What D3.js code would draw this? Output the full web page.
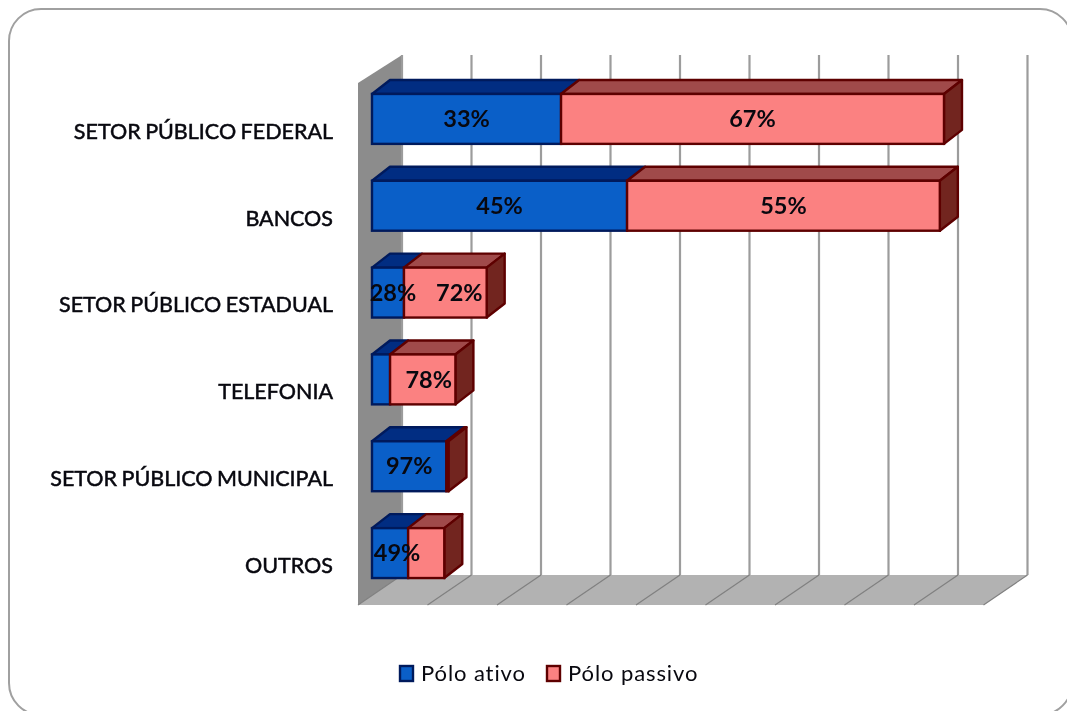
<!DOCTYPE html>
<html>
<head>
<meta charset="utf-8">
<script src="https://cdn.jsdelivr.net/npm/d3@7"></script>
<style>
  html, body { margin: 0; padding: 0; background: #fff; overflow: hidden; }
  svg { display: block; filter: blur(0.7px); }
  text { font-family: Lato, "Open Sans", sans-serif; fill: #08080f; }
</style>
</head>
<body>
<div id="container"></div>
<script>
// 1 - DATA, in gridline units

const categorias = ["SETOR PÚBLICO FEDERAL", "BANCOS", "SETOR PÚBLICO ESTADUAL", "TELEFONIA", "SETOR PÚBLICO MUNICIPAL", "OUTROS"];
const poloAtivo = [2.72, 3.67, 0.46, 0.26, 1.07, 0.52];
const poloPassivo = [5.51, 4.50, 1.19, 0.94, 0.03, 0.52];
const rotulosAtivo = ["33%", "45%", "28%", "", "97%", "49%"];
const rotulosPassivo = ["67%", "55%", "72%", "78%", "", ""];
const nomesSeries = ["Pólo ativo", "Pólo passivo"];
const divisoes = [0, 1, 2, 3, 4, 5, 6, 7, 8, 9];

// 2 - SETUP

const width = 1067;
const height = 711;
const depth = { x: 18, y: 14 };      // bar extrusion
const wall = { back: 30, front: 14, dy: 30 }; // how far the grid box sits from the zero line
const floorY = 605;
const wallTop = 55;

const colors = {
  ativo: { front: "#0a5fc8", top: "#012d82", stroke: "#001a5c" },
  passivo: { front: "#fb8181", top: "#a04a4a", side: "#72251f", stroke: "#5e0000" }
};

const svg = d3.select("#container")
  .append("svg")
  .attr("width", width)
  .attr("height", height);

// 3 - SCALES

const xScale = d3.scaleLinear()
  .domain([0, 9])
  .range([372, 372 + 9 * 69.5]);

const yScale = d3.scaleBand()
  .domain(categorias)
  .range([75.5, 596.5])
  .paddingInner(0.425)
  .paddingOuter(0.2125);

const rows = categorias.map((c, i) => ({
  categoria: c, ativo: poloAtivo[i], passivo: poloPassivo[i]
}));
const stacked = d3.stack().keys(["ativo", "passivo"])(rows);

const poly = pts => pts.map(p => p.join(",")).join(" ");

// 4 - FRAME

svg.append("rect")
  .attr("x", 9).attr("y", 9)
  .attr("width", 1063).attr("height", 706)
  .attr("rx", 32)
  .attr("fill", "#fff")
  .attr("stroke", "#a0a0a0")
  .attr("stroke-width", 2);

// 5 - GRID BOX (wall, floor, gridlines)

const x0 = xScale(0);
const x9 = xScale(9);

svg.append("polygon")
  .attr("points", poly([[x0 - wall.front, floorY], [x0 + wall.back, floorY - wall.dy], [x9 + wall.back, floorY - wall.dy], [x9 - wall.front, floorY]]))
  .attr("fill", "#b2b2b2");

svg.append("polygon")
  .attr("points", poly([[x0 - wall.front, wallTop + 28], [x0 + wall.back, wallTop], [x0 + wall.back, floorY - wall.dy], [x0 - wall.front, floorY]]))
  .attr("fill", "#8c8c8c");

svg.selectAll("line.grid")
  .data(divisoes)
  .join("line")
  .attr("class", "grid")
  .attr("x1", d => xScale(d) + wall.back)
  .attr("x2", d => xScale(d) + wall.back)
  .attr("y1", wallTop)
  .attr("y2", floorY - wall.dy)
  .attr("stroke", "#9c9c9c")
  .attr("stroke-width", 2.2);

svg.selectAll("line.floor")
  .data(divisoes)
  .join("line")
  .attr("class", "floor")
  .attr("x1", d => xScale(d) - wall.front)
  .attr("x2", d => xScale(d) + wall.back)
  .attr("y1", floorY)
  .attr("y2", floorY - wall.dy)
  .attr("stroke", "#808080")
  .attr("stroke-width", 1.2);

// 6 - BARS

const barH = yScale.bandwidth();

stacked.forEach(serie => {
  const c = colors[serie.key];
  const g = svg.append("g").attr("class", serie.key);

  // top faces
  g.selectAll("polygon.top")
    .data(serie)
    .join("polygon")
    .attr("class", "top")
    .attr("points", d => {
      const a = xScale(d[0]), b = xScale(d[1]), t = yScale(d.data.categoria);
      return poly([[a, t], [a + depth.x, t - depth.y], [b + depth.x, t - depth.y], [b, t]]);
    })
    .attr("fill", c.top)
    .attr("stroke", c.stroke)
    .attr("stroke-width", 2.4)
    .attr("stroke-linejoin", "round");

  // only the last series closes the bar with a side face
  if (serie.key === "passivo") {
    g.selectAll("polygon.side")
      .data(serie)
      .join("polygon")
      .attr("class", "side")
      .attr("points", d => {
        const b = xScale(d[1]), t = yScale(d.data.categoria);
        return poly([[b, t], [b + depth.x, t - depth.y], [b + depth.x, t - depth.y + barH], [b, t + barH]]);
      })
      .attr("fill", c.side)
      .attr("stroke", c.stroke)
      .attr("stroke-width", 2.4)
      .attr("stroke-linejoin", "round");
  }

  g.selectAll("rect")
    .data(serie)
    .join("rect")
    .attr("x", d => xScale(d[0]))
    .attr("y", d => yScale(d.data.categoria))
    .attr("width", d => xScale(d[1]) - xScale(d[0]))
    .attr("height", barH)
    .attr("fill", c.front)
    .attr("stroke", c.stroke)
    .attr("stroke-width", 2.4);
});

// 7 - PERCENT LABELS
// the narrow segments had their labels pushed right by hand in the original

const ajusteAtivo = { "28%": 5, "49%": 7 };
const ajustePassivo = { "72%": 14, "78%": 6 };

function drawLabels(serie, rotulos, ajuste) {
  svg.selectAll("text.pct-" + serie.key)
    .data(serie)
    .join("text")
    .attr("class", "pct-" + serie.key)
    .attr("x", (d, i) => (xScale(d[0]) + xScale(d[1])) / 2 + (ajuste[rotulos[i]] || 0))
    .attr("y", d => yScale(d.data.categoria) + barH / 2)
    .attr("dy", "0.35em")
    .attr("text-anchor", "middle")
    .style("font-size", "23.5px")
    .style("font-weight", "700")
    .text((d, i) => rotulos[i]);
}
drawLabels(stacked[0], rotulosAtivo, ajusteAtivo);
drawLabels(stacked[1], rotulosPassivo, ajustePassivo);

// 8 - CATEGORY AXIS

const yAxis = d3.axisLeft(yScale).tickSize(0).tickPadding(0);

svg.append("g")
  .attr("transform", "translate(333,13)")
  .call(yAxis)
  .call(g => g.select(".domain").remove())
  .selectAll("text")
  .style("font-family", "Lato, 'Open Sans', sans-serif")
  .style("font-size", "21.5px")
  .style("word-spacing", "-1px")
  .style("fill", "#08080f")
  .style("stroke", "#08080f")
  .style("stroke-width", "0.5px");

// 9 - LEGEND

const legendX = d3.scaleOrdinal().domain(nomesSeries).range([400, 547]);

const legend = svg.selectAll("g.legend")
  .data(nomesSeries)
  .join("g")
  .attr("class", "legend")
  .attr("transform", d => `translate(${legendX(d)},666)`);

legend.append("rect")
  .attr("width", 13)
  .attr("height", 15)
  .attr("fill", (d, i) => i === 0 ? colors.ativo.front : colors.passivo.front)
  .attr("stroke", (d, i) => i === 0 ? colors.ativo.stroke : colors.passivo.stroke)
  .attr("stroke-width", 2.4);

legend.append("text")
  .attr("x", 21)
  .attr("y", 15)
  .style("font-size", "22px")
  .style("letter-spacing", "0.9px")
  .text(d => d);
</script>
</body>
</html>
